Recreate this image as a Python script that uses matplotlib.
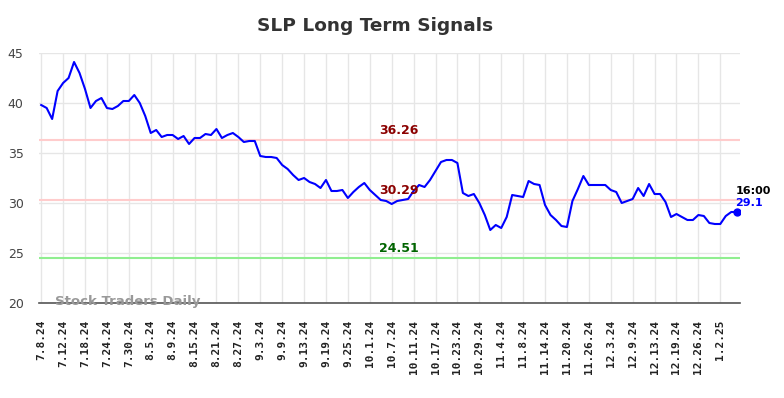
import numpy as np
import pandas as pd
import matplotlib
matplotlib.use("Agg")
import matplotlib.pyplot as plt

# trading days 7/8/2024 .. 1/7/2025 (US market holidays removed)
HOLIDAYS = ["2024-09-02", "2024-11-28", "2024-12-25", "2025-01-01"]
days = pd.bdate_range("2024-07-08", "2025-01-07", freq="C", holidays=HOLIDAYS)

prices = [
    39.8, 39.5, 38.4, 41.2, 42.0, 42.5, 44.1, 43.0, 41.4, 39.5,
    40.2, 40.5, 39.5, 39.4, 39.7, 40.2, 40.2, 40.8, 40.0, 38.7,
    37.0, 37.3, 36.6, 36.8, 36.8, 36.4, 36.7, 35.9, 36.5, 36.5,
    36.9, 36.8, 37.4, 36.5, 36.8, 37.0, 36.6, 36.1, 36.2, 36.2,
    34.7, 34.6, 34.6, 34.5, 33.8, 33.4, 32.8, 32.3, 32.5, 32.1,
    31.9, 31.5, 32.3, 31.2, 31.2, 31.3, 30.5, 31.1, 31.6, 32.0,
    31.3, 30.8, 30.3, 30.2, 29.9, 30.2, 30.3, 30.4, 31.2, 31.8,
    31.6, 32.3, 33.2, 34.1, 34.3, 34.3, 34.0, 31.0, 30.7, 30.9,
    30.0, 28.8, 27.3, 27.8, 27.5, 28.6, 30.8, 30.7, 30.6, 32.2,
    31.9, 31.8, 29.8, 28.8, 28.3, 27.7, 27.6, 30.2, 31.4, 32.7,
    31.8, 31.8, 31.8, 31.8, 31.3, 31.1, 30.0, 30.2, 30.4, 31.5,
    30.7, 31.9, 30.9, 30.9, 30.1, 28.6, 28.9, 28.6, 28.3, 28.3,
    28.8, 28.7, 28.0, 27.9, 27.9, 28.7, 29.1, 29.1,
]

tick_labels = [
    "7.8.24", "7.12.24", "7.18.24", "7.24.24", "7.30.24", "8.5.24", "8.9.24",
    "8.15.24", "8.21.24", "8.27.24", "9.3.24", "9.9.24", "9.13.24", "9.19.24",
    "9.25.24", "10.1.24", "10.7.24", "10.11.24", "10.17.24", "10.23.24",
    "10.29.24", "11.4.24", "11.8.24", "11.14.24", "11.20.24", "11.26.24",
    "12.3.24", "12.9.24", "12.13.24", "12.19.24", "12.26.24", "1.2.25",
]

upper_res = 36.26
mid_level = 30.29
support = 24.51
last_time = "16:00"

x = np.arange(len(days))

fig = plt.figure(figsize=(7.84, 3.98), dpi=100)
ax = fig.add_axes([39 / 784, 1 - 303 / 398, 701 / 784, 250 / 398])

ax.set_xlim(-0.4, 127.6)
ax.set_ylim(20, 45)
ax.set_yticks([20, 25, 30, 35, 40, 45])
ax.set_xticks(x[::4])
ax.set_xticklabels(tick_labels, rotation=90, fontsize=8, fontweight="bold",
                   family="DejaVu Sans Mono", color="#222222")
ax.tick_params(axis="y", labelsize=9, colors="#444444", length=0, pad=11)
ax.tick_params(axis="x", length=0, pad=12)

ax.grid(True, color="#e6e6e6", lw=1)
ax.set_axisbelow(True)
for s in ["top", "right", "left"]:
    ax.spines[s].set_visible(False)
ax.spines["bottom"].set_color("#555555")
ax.spines["bottom"].set_linewidth(1.2)

ax.axhline(upper_res, color="#ffcccc", lw=1.5)
ax.axhline(mid_level, color="#ffcccc", lw=1.5)
ax.axhline(support, color="#90ee90", lw=1.5)

ax.plot(x, prices, color="#0000ff", lw=1.5)
ax.plot(x[-1], prices[-1], "o", color="#0000ff", ms=5)

mid_x = 65.3
ax.text(mid_x, upper_res + 0.3, f"{upper_res:.2f}", color="#8b0000",
        fontsize=9, fontweight="bold", ha="center", va="bottom")
ax.text(mid_x, mid_level + 0.3, f"{mid_level:.2f}", color="#8b0000",
        fontsize=9, fontweight="bold", ha="center", va="bottom")
ax.text(mid_x, support + 0.3, f"{support:.2f}", color="#006400",
        fontsize=9, fontweight="bold", ha="center", va="bottom")

ax.text(x[-1] - 0.2, prices[-1] + 1.6, last_time, color="black", fontsize=8,
        fontweight="bold", ha="left", va="bottom")
ax.text(x[-1] - 0.2, prices[-1] + 0.35, f"{prices[-1]}", color="#0000ff",
        fontsize=8, fontweight="bold", ha="left", va="bottom")

ax.text(2.5, 20.2, "Stock Traders Daily", color="#999999", fontsize=9.5,
        fontweight="bold", ha="left", va="center")

fig.text(375 / 784, 1 - 26 / 398, "SLP Long Term Signals", ha="center",
         va="center", fontsize=13.3, fontweight="bold", color="#333333")

fig.savefig("out.png", dpi=100)
